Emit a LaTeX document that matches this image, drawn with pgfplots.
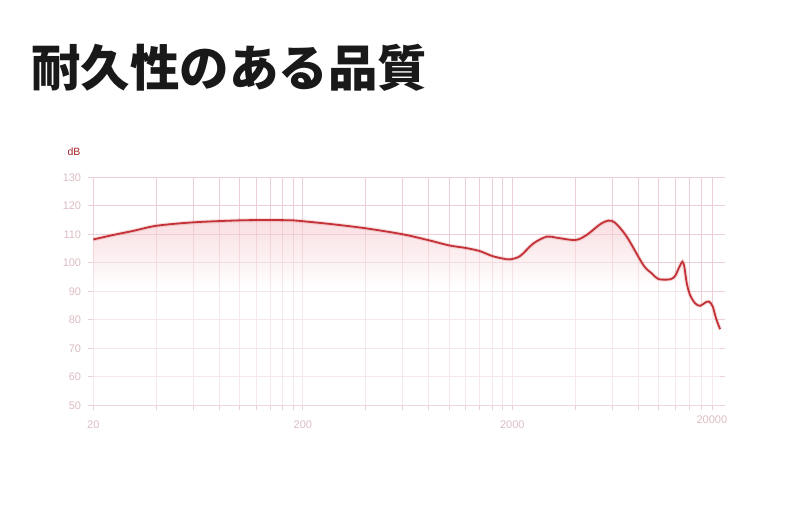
\documentclass[border=0pt]{standalone}
\usepackage{fontspec}
\setmainfont{Liberation Sans}
\newfontfamily\cjk{Noto Sans CJK JP}
\usepackage{pgfplots}
\usepackage{pgfplotstable}
\pgfplotsset{compat=1.18}
\definecolor{curvered}{RGB}{196,50,56}
\definecolor{gridpink}{RGB}{236,208,213}
\definecolor{ticktext}{RGB}{221,189,195}
\definecolor{dbred}{RGB}{165,35,40}
\definecolor{fillpink}{RGB}{245,192,198}
\pgfdeclareverticalshading{pinkfade}{100bp}{color(0bp)=(white); color(25bp)=(white); color(57bp)=(white); color(75bp)=(fillpink); color(100bp)=(fillpink)}

% frequency response (Hz, dB)
\pgfplotstableread{
f db
20 108.2
25 109.8
31 111.2
40 113.0
60 114.2
100 114.9
140 115.0
180 114.9
200 114.6
280 113.5
400 112.1
600 110.0
800 107.9
1000 106.1
1200 105.2
1400 104.1
1600 102.4
1800 101.5
1950 101.2
2180 102.4
2520 106.8
2920 109.2
3260 108.8
4000 108.0
4530 109.8
5240 113.5
5750 114.8
6180 114.1
7030 109.2
8440 99.2
9260 96.3
9950 94.3
11320 94.2
11960 95.4
12540 98.6
12960 100.4
13240 98.6
13600 92.8
14100 88.7
14900 85.8
15740 84.9
16630 86.0
17370 86.4
18100 84.6
18760 80.5
19610 76.7
}\response

\begin{document}
\begin{tikzpicture}
\useasboundingbox[fill=white] (0,0) rectangle (790pt,506pt);
\node[anchor=west, inner sep=0pt, text=black!90] at (31pt,438.5pt)
  {\cjk\bfseries\fontsize{49.5}{52}\selectfont 耐久性のある品質};
\node[text=dbred, inner sep=0pt] at (74pt,354.5pt) {\fontsize{10.5}{12}\selectfont dB};
\begin{axis}[
    at={(93.3pt,100.7pt)}, anchor=south west,
    scale only axis, width=631.7pt, height=228pt,
    xmode=log, log basis x=10,
    xmin=20, xmax=20700, ymin=50, ymax=130,
    ytick={50,60,...,130},
    xtick={20,200,2000}, xticklabels={20,200,2000},
    minor xtick={40,60,80,100,120,140,160,180,400,600,800,1000,1200,1400,1600,1800,4000,6000,8000,10000,12000,14000,16000,18000},
    extra x ticks={20000}, extra x tick labels={20000},
    extra x tick style={grid=none, major tick length=0pt, xticklabel style={xshift=-10pt}},
    grid=both,
    major grid style={gridpink, line width=1pt},
    minor grid style={gridpink, line width=1pt},
    axis line style={draw=none},
    tick align=outside, tick pos=left,
    major tick length=5pt, minor tick length=5pt,
    tick style={gridpink, line width=1pt},
    ticklabel style={font=\fontsize{11}{13}\selectfont, text=ticktext},
    yticklabel style={anchor=east, inner sep=0pt, xshift=-7pt},
    xticklabel style={anchor=north, inner sep=0pt, yshift=-10pt},
    /pgf/number format/assume math mode=true,
]
\addplot[draw=none, shading=pinkfade, fill opacity=0.5, smooth] table[x=f, y=db] {\response} \closedcycle;
\addplot[curvered, opacity=0.15, line width=4pt, smooth] table[x=f, y=db] {\response};
\addplot[curvered, line width=1.8pt, smooth] table[x=f, y=db] {\response};
\end{axis}
\end{tikzpicture}
\end{document}
